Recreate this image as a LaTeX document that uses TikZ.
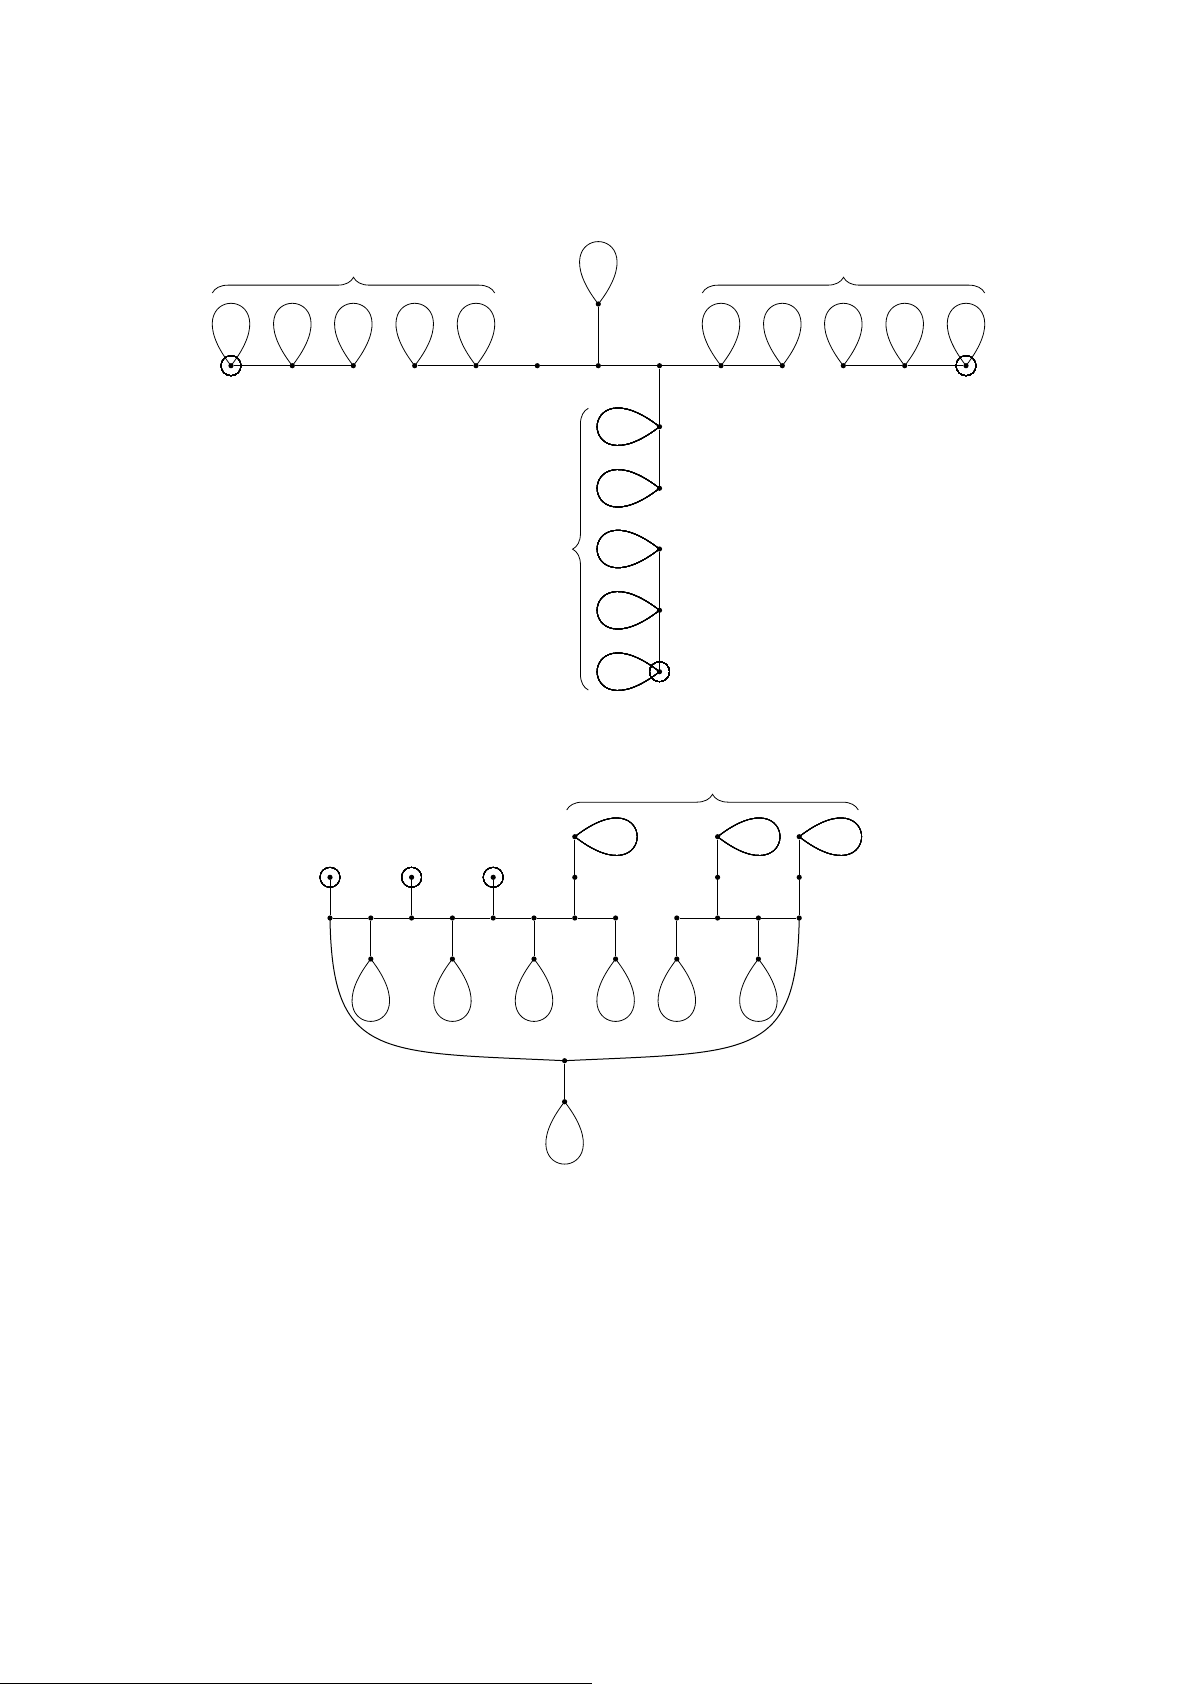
\documentclass[tikz,border=0pt]{standalone}
\usetikzlibrary{decorations.pathreplacing}
\tikzset{
  vtx/.style={circle,fill=black,inner sep=0pt,minimum size=5.2pt},
  edge/.style={line width=1pt},
  lpp/.style={line width=0.8pt},
  ring/.style={line width=0.7pt},
  bracestyle/.style={line width=0.8pt,decorate,decoration={brace,amplitude=15.7pt}}
}
\newcommand\mylp[2]{\draw[lpp] (#1.center) .. controls +({#2+38}:105.6) and +({#2-38}:105.6) .. (#1.center);}
\begin{document}
\begin{tikzpicture}[x=1pt,y=-1pt]
\useasboundingbox (0,0) rectangle (1191,1685);
% ---------- top tree ----------
\foreach \n/\x in {L1/231,L2/292.3,L3/353.3,L4/414.7,L5/476,M1/537.3,C/598.3,M2/659.5,R1/721,R2/782.3,R3/843.3,R4/904.7,R5/966}
  \node[vtx] (\n) at (\x,365.7) {};
\node[vtx] (T) at (598.3,304) {};
\foreach \n/\y in {D1/426.7,D2/488.3,D3/549,D4/610.3,D5/671.7}
  \node[vtx] (\n) at (659.5,\y) {};
\draw[edge] (L1) -- (L2) -- (L3);
\draw[edge] (L4) -- (L5) -- (M1) -- (C) -- (M2) -- (R1) -- (R2);
\draw[edge] (R3) -- (R4) -- (R5);
\draw[edge] (C) -- (T);
\draw[edge] (M2) -- (D1) -- (D2);
\draw[edge] (D3) -- (D4) -- (D5);
\foreach \n in {L1,L2,L3,L4,L5,R1,R2,R3,R4,R5,T} \mylp{\n}{-90}
\foreach \n in {D1,D2,D3,D4,D5} \mylp{\n}{180}
\foreach \n in {L1,R5,D5} \draw[ring] (\n.center) circle[radius=10pt];
\coordinate (bl1) at (212.3,293); \coordinate (bl2) at (494.7,293);
\coordinate (br1) at (702.3,293); \coordinate (br2) at (984.7,293);
\coordinate (bv1) at (588.3,690); \coordinate (bv2) at (588.3,408.3);
\draw[bracestyle] (bl1) -- (bl2);
\draw[bracestyle] (br1) -- (br2);
\draw[bracestyle] (bv1) -- (bv2);
% ---------- bottom tree ----------
\foreach \n/\x in {B1/330,B2/370.8,B3/411.6,B4/452.4,B5/493.2,B6/534,B7/574.8,B8/615.6,B9/676.8,B10/717.6,B11/758.4,B12/799.2}
  \node[vtx] (\n) at (\x,918) {};
\foreach \n/\x in {U1/330,U3/411.6,U5/493.2,V7/574.8,V10/717.6,V12/799.2}
  \node[vtx] (\n) at (\x,877.3) {};
\foreach \n/\x in {P7/574.8,P10/717.6,P12/799.2}
  \node[vtx] (\n) at (\x,836.7) {};
\foreach \n/\x in {W2/370.8,W4/452.4,W6/534,W8/615.6,W9/676.8,W11/758.4}
  \node[vtx] (\n) at (\x,959) {};
\node[vtx] (X) at (564.6,1060.7) {};
\node[vtx] (Y) at (564.6,1101.7) {};
\draw[edge] (B1) -- (B2) -- (B3) -- (B4) -- (B5) -- (B6) -- (B7) -- (B8);
\draw[edge] (B9) -- (B10) -- (B11) -- (B12);
\draw[edge] (B1) -- (U1);
\draw[edge] (B3) -- (U3);
\draw[edge] (B5) -- (U5);
\draw[edge] (B7) -- (V7) -- (P7);
\draw[edge] (B10) -- (V10) -- (P10);
\draw[edge] (B12) -- (V12) -- (P12);
\foreach \a/\b in {B2/W2,B4/W4,B6/W6,B8/W8,B9/W9,B11/W11} \draw[edge] (\a) -- (\b);
\draw[edge] (X) -- (Y);
\draw[edge] (B1.center) .. controls (332,1060) and (380,1052) .. (X.center)
   .. controls (749.2,1052) and (797.2,1060) .. (B12.center);
\foreach \n in {W2,W4,W6,W8,W9,W11,Y} \mylp{\n}{90}
\foreach \n in {P7,P10,P12} \mylp{\n}{0}
\foreach \n in {U1,U3,U5} \draw[ring] (\n.center) circle[radius=10pt];
\coordinate (bb1) at (566.7,810); \coordinate (bb2) at (858.3,810);
\draw[bracestyle] (bb1) -- (bb2);
% ---------- footnote rule ----------
\coordinate (fr1) at (0,1683.5); \coordinate (fr2) at (592,1683.5);
\draw[line width=1.2pt] (fr1) -- (fr2);
\end{tikzpicture}
\end{document}
